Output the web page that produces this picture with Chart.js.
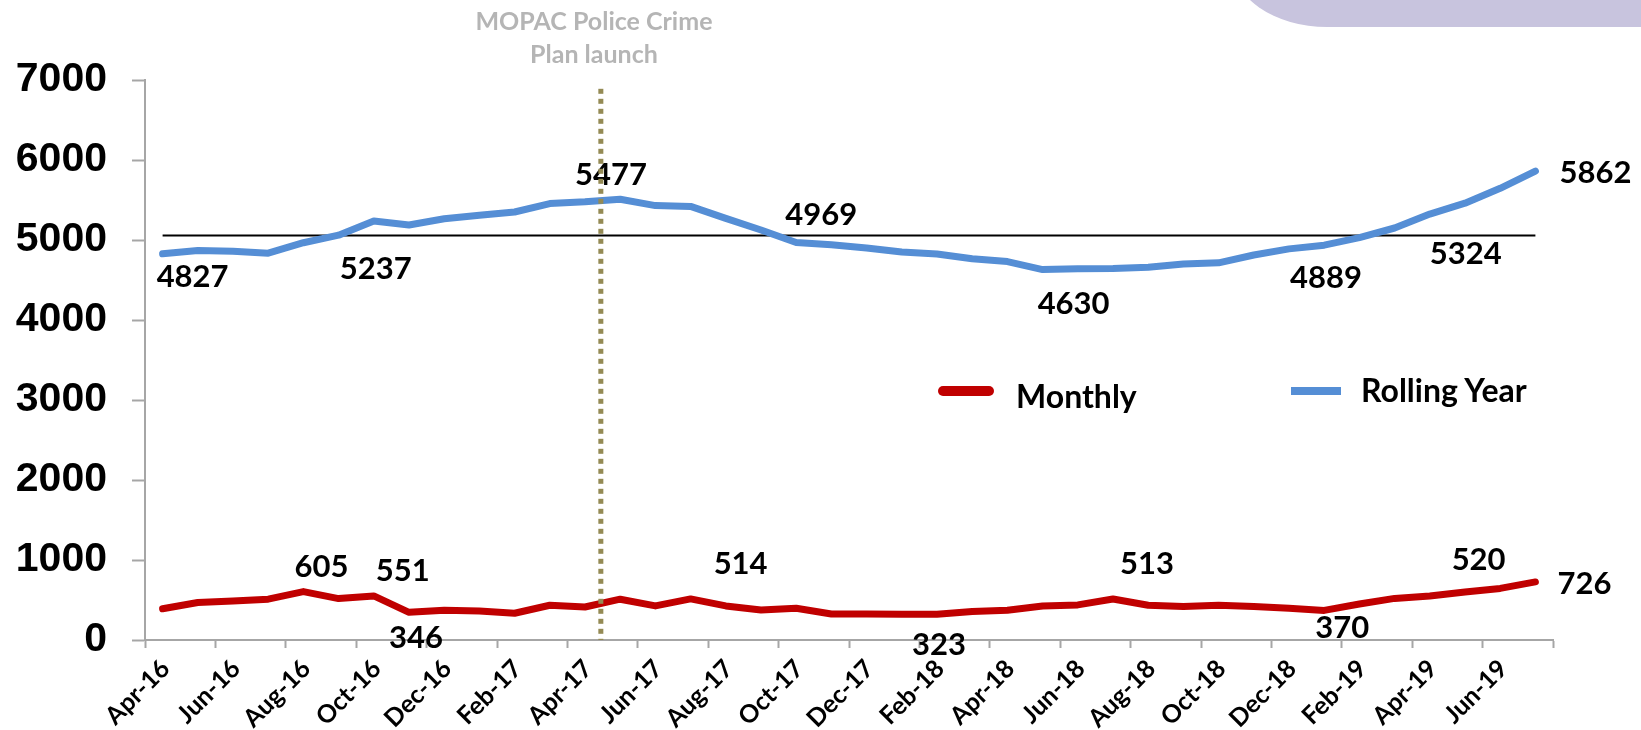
<!DOCTYPE html>
<html>
<head>
<meta charset="utf-8">
<script src="https://cdn.jsdelivr.net/npm/chart.js@4.4.1/dist/chart.umd.min.js"></script>
<style>
  html, body { margin: 0; padding: 0; background: #fff; }
  #wrap { position: relative; width: 1641px; height: 730px; overflow: hidden; background: #fff; }
  #wrap canvas { position: absolute; left: 0; top: 0; }
  .tab { position: absolute; left: 1231px; top: -40px; width: 420px; height: 67px; background: #c8c4de; border-bottom-left-radius: 96px 67px; }
  .note { position: absolute; left: 444px; top: 4px; width: 300px; text-align: center; font: bold 25px Lato, sans-serif; color: #b5b5b5; line-height: 33px; }
  .legend { position: absolute; font: bold 32px Lato, sans-serif; color: #000; white-space: nowrap; line-height: 32px; }
  .swatch { position: absolute; }
</style>
</head>
<body>
<div id="wrap">
  <canvas id="chart" width="1641" height="730"></canvas>
  <div class="tab"></div>
  <div class="note">MOPAC Police Crime<br>Plan launch</div>
  <div class="swatch" style="left:938px;top:386px;width:56px;height:10px;background:#c00000;border-radius:5px;"></div>
  <div class="legend" style="left:1016px;top:380px;">Monthly</div>
  <div class="swatch" style="left:1291px;top:387px;width:50px;height:8px;background:#558ed5;"></div>
  <div class="legend" style="left:1361px;top:374px;">Rolling Year</div>
</div>
<script>
// months on the axis (Apr-16 .. Jul-19)
const months = ['Apr-16','May-16','Jun-16','Jul-16','Aug-16','Sep-16','Oct-16','Nov-16','Dec-16',
  'Jan-17','Feb-17','Mar-17','Apr-17','May-17','Jun-17','Jul-17','Aug-17','Sep-17','Oct-17','Nov-17','Dec-17',
  'Jan-18','Feb-18','Mar-18','Apr-18','May-18','Jun-18','Jul-18','Aug-18','Sep-18','Oct-18','Nov-18','Dec-18',
  'Jan-19','Feb-19','Mar-19','Apr-19','May-19','Jun-19','Jul-19'];

const monthly = [390, 468, 489, 510, 605, 518, 551, 346, 372, 363, 334, 434, 413, 510, 426, 514, 426, 376, 397, 325,
  325, 322, 323, 355, 372, 426, 439, 513, 434, 418, 434, 418, 397, 370, 450, 520, 550, 600, 645, 726];

const rollingYear = [4827, 4870, 4860, 4835, 4966, 5060, 5237, 5188, 5265, 5310, 5350, 5455, 5477, 5510, 5430, 5420, 5270, 5125, 4969, 4940,
  4900, 4850, 4825, 4765, 4730, 4630, 4640, 4645, 4660, 4700, 4715, 4812, 4889, 4935, 5030, 5150, 5324, 5460, 5646, 5862];

const averageLevel = 5055;
const yTicks = [0, 1000, 2000, 3000, 4000, 5000, 6000, 7000];

// which points carry a value label
const monthlyLabelIdx = [4, 6, 7, 15, 22, 27, 33, 35, 39];
const rollingLabelIdx = [0, 6, 12, 18, 25, 32, 36, 39];

// launch marker sits between Apr-17 and May-17
const launchIndex = 12.45;
const launchTop = 6890;

// label nudges (px) from the point, same order as the idx lists
const monthlyLabelShift = [[18,-26],[29,-26],[7,25],[50,-36],[2,30],[34,-36],[18,17],[84,-39],[49,1]];
const rollingLabelShift = [[30,22],[2,47],[26,-28],[25,-28],[31,33],[37,28],[36,39],[60,1]];

const valueLabels = {
  id: 'valueLabels',
  afterDatasetsDraw(chart) {
    const ctx = chart.ctx;
    ctx.save();
    ctx.font = 'bold 31px Lato, sans-serif';
    ctx.fillStyle = '#000';
    ctx.textAlign = 'center';
    ctx.textBaseline = 'alphabetic';
    const put = (dsIndex, values, idx, shift) => {
      const pts = chart.getDatasetMeta(dsIndex).data;
      idx.forEach((k, n) => {
        const p = pts[k];
        ctx.fillText(String(values[k]), p.x + shift[n][0], p.y + shift[n][1] + 11);
      });
    };
    put(0, monthly, monthlyLabelIdx, monthlyLabelShift);
    put(1, rollingYear, rollingLabelIdx, rollingLabelShift);

    // dotted launch line
    const xs = chart.scales.x, ys = chart.scales.y;
    const base = xs.getPixelForValue(Math.floor(launchIndex));
    const step = xs.getPixelForValue(Math.floor(launchIndex) + 1) - base;
    const lx = base + (launchIndex - Math.floor(launchIndex)) * step;
    ctx.beginPath();
    ctx.setLineDash([5, 5]);
    ctx.lineWidth = 5;
    ctx.strokeStyle = '#948a54';
    ctx.moveTo(lx, ys.getPixelForValue(launchTop));
    ctx.lineTo(lx, ys.getPixelForValue(0));
    ctx.stroke();
    ctx.restore();
  }
};

new Chart(document.getElementById('chart'), {
  type: 'line',
  data: {
    labels: months,
    datasets: [
      {
        label: 'Monthly',
        data: monthly,
        borderColor: '#c00000',
        borderWidth: 7,
        pointRadius: 0,
        borderCapStyle: 'round',
        borderJoinStyle: 'round',
        tension: 0
      },
      {
        label: 'Rolling Year',
        data: rollingYear,
        borderColor: '#558ed5',
        borderWidth: 7,
        pointRadius: 0,
        borderCapStyle: 'round',
        borderJoinStyle: 'round',
        tension: 0
      },
      {
        label: 'Average',
        data: months.map(() => averageLevel),
        borderColor: '#000',
        borderWidth: 2,
        pointRadius: 0
      }
    ]
  },
  options: {
    responsive: false,
    animation: false,
    devicePixelRatio: 1,
    layout: { padding: { top: 80, right: 88, left: 0, bottom: 0 } },
    plugins: { legend: { display: false }, tooltip: { enabled: false } },
    scales: {
      x: {
        type: 'category',
        offset: true,
        grid: {
          offset: true,
          drawOnChartArea: false,
          tickLength: 8,
          tickWidth: 2,
          tickColor: (c) => (c.index === undefined || c.index % 2 === 0) ? '#a6a6a6' : 'rgba(0,0,0,0)'
        },
        border: { color: '#a6a6a6', width: 2 },
        ticks: {
          autoSkip: false,
          maxRotation: 45,
          minRotation: 45,
          padding: 6,
          labelOffset: 3,
          color: '#000',
          font: { family: 'Lato', weight: 'bold', size: 25 },
          callback: (v, i) => i % 2 === 0 ? months[i] : ''
        },
        afterFit: (s) => { s.height = 90; }
      },
      y: {
        min: 0,
        max: 7000,
        afterBuildTicks: (s) => { s.ticks = yTicks.map(v => ({ value: v })); },
        grid: { drawOnChartArea: false, tickLength: 13, tickWidth: 2, tickColor: '#a6a6a6' },
        border: { color: '#a6a6a6', width: 2 },
        ticks: {
          padding: 25,
          color: '#000',
          font: { family: 'Liberation Sans', weight: 'bold', size: 41 },
          callback: (v) => String(v)
        },
        afterFit: (s) => { s.width = 145; }
      }
    }
  },
  plugins: [valueLabels]
});
</script>
</body>
</html>
